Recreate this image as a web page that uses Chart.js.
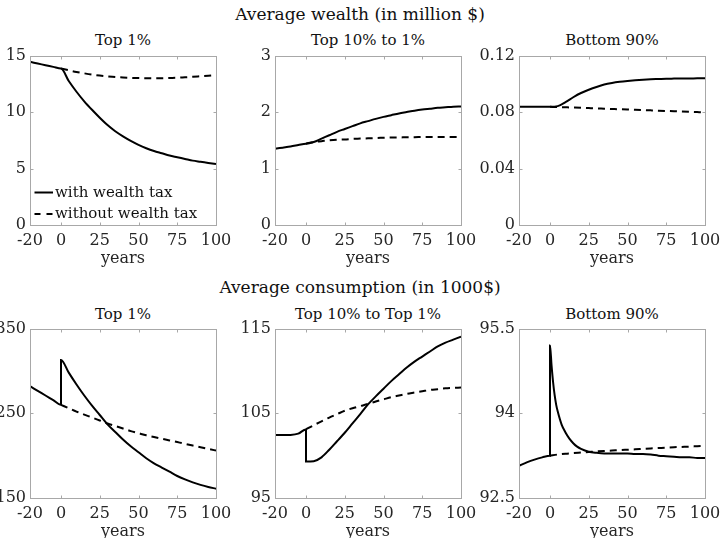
<!DOCTYPE html>
<html><head><meta charset="utf-8">
<script src="https://cdn.jsdelivr.net/npm/chart.js@4.4.1/dist/chart.umd.min.js"></script>
<style>
html,body{margin:0;padding:0;background:#fff;width:720px;height:538px;overflow:hidden;position:relative;font-family:"DejaVu Serif",serif;color:#000}
canvas{position:absolute}
.t{position:absolute;white-space:nowrap;text-align:center;line-height:1;color:#111}
.lg{position:absolute;white-space:nowrap;line-height:1;font-size:15px;color:#111}
</style></head><body>
<div class="t" style="left:0;width:720px;top:5.6px;font-size:17px">Average wealth (in million $)</div>
<div class="t" style="left:0;width:720px;top:278.6px;font-size:17px">Average consumption (in 1000$)</div>
<div class="t" style="left:30px;width:186px;top:33.3px;font-size:15px">Top 1%</div>
<div class="t" style="left:275px;width:186px;top:33.3px;font-size:15px">Top 10% to 1%</div>
<div class="t" style="left:519px;width:186px;top:33.3px;font-size:15px">Bottom 90%</div>
<div class="t" style="left:30px;width:186px;top:307.3px;font-size:15px">Top 1%</div>
<div class="t" style="left:275px;width:186px;top:307.3px;font-size:15px">Top 10% to Top 1%</div>
<div class="t" style="left:519px;width:186px;top:307.3px;font-size:15px">Bottom 90%</div>
<canvas id="c1" width="256" height="231" style="left:-18px;top:42px"></canvas>
<canvas id="c2" width="256" height="231" style="left:227px;top:42px"></canvas>
<canvas id="c3" width="256" height="231" style="left:471px;top:42px"></canvas>
<canvas id="c4" width="256" height="231" style="left:-18px;top:315px"></canvas>
<canvas id="c5" width="256" height="231" style="left:227px;top:315px"></canvas>
<canvas id="c6" width="256" height="231" style="left:471px;top:315px"></canvas>
<svg style="position:absolute;left:0;top:0" width="720" height="538">
<line x1="34.5" y1="192.5" x2="53" y2="192.5" stroke="#000" stroke-width="2"/>
<line x1="34.5" y1="214" x2="53" y2="214" stroke="#000" stroke-width="2" stroke-dasharray="6,6"/>
</svg>
<div class="lg" style="left:55px;top:184.5px">with wealth tax</div>
<div class="lg" style="left:55px;top:206px">without wealth tax</div>
<script>
// ---- axes ----
const xTicks = [-20, 0, 25, 50, 75, 100];
const yearsPre = [-20, -15, -10, -5, 0];
const yearsPost = [0, 5, 10, 15, 20, 25, 30, 35, 40, 45, 50, 55, 60, 65, 70, 75, 80, 85, 90, 95, 100];
const yearsPostFine = [0, 1, 2, 3, 4, 5, 7.5, 10, 12.5, 15, 17.5, 20, 25, 30, 35, 40, 45, 50, 55, 60, 65, 70, 75, 80, 85, 90, 95, 100];

// ---- Average wealth (million $) ----
const wealthTop1Ticks = [0, 5, 10, 15];
const wealthTop1Pre = [14.45, 14.3, 14.15, 14.0, 13.85];
const wealthTop1Tax = [13.85, 12.75, 11.8, 10.95, 10.2, 9.5, 8.85, 8.3, 7.85, 7.45, 7.1, 6.8, 6.55, 6.35, 6.15, 6.0, 5.85, 5.7, 5.6, 5.5, 5.4];
const wealthTop1NoTax = [13.85, 13.7, 13.55, 13.43, 13.32, 13.23, 13.16, 13.1, 13.06, 13.03, 13.01, 13.0, 13.0, 13.0, 13.02, 13.04, 13.08, 13.12, 13.17, 13.22, 13.28];

const wealthTop10Ticks = [0, 1, 2, 3];
const wealthTop10Pre = [1.35, 1.37, 1.39, 1.415, 1.44];
const wealthTop10Tax = [1.44, 1.47, 1.53, 1.59, 1.65, 1.70, 1.75, 1.80, 1.84, 1.88, 1.915, 1.945, 1.975, 2.0, 2.025, 2.045, 2.06, 2.075, 2.085, 2.095, 2.10];
const wealthTop10NoTax = [1.44, 1.47, 1.485, 1.50, 1.51, 1.515, 1.525, 1.53, 1.535, 1.54, 1.545, 1.55, 1.55, 1.555, 1.555, 1.56, 1.56, 1.56, 1.56, 1.56, 1.56];

const wealthBot90Ticks = [0, 0.04, 0.08, 0.12];
const wealthBot90Pre = [0.0837, 0.0837, 0.0837, 0.0837, 0.0837];
const wealthBot90Tax = [0.0837, 0.0842, 0.0870, 0.0905, 0.0935, 0.0958, 0.0978, 0.0995, 0.1006, 0.1014, 0.1020, 0.1025, 0.1029, 0.1032, 0.1034, 0.1036, 0.1037, 0.1038, 0.1038, 0.1039, 0.1039];
const wealthBot90NoTax = [0.0837, 0.0836, 0.0834, 0.0832, 0.0830, 0.0828, 0.0826, 0.0824, 0.0822, 0.0820, 0.0818, 0.0816, 0.0814, 0.0812, 0.0810, 0.0808, 0.0806, 0.0804, 0.0802, 0.0800, 0.0798];

// ---- Average consumption (1000$) ----
const consTop1Ticks = [150, 250, 350];
const consTop1Pre = [282, 276.5, 271, 265.5, 260];
const consTop1Tax = [313, 298, 284, 271, 259, 248, 237, 228, 219, 211, 204, 197, 191, 186, 181, 176, 172, 168.5, 165.5, 163, 161];
const consTop1NoTax = [260, 256, 252, 248.5, 245, 241.5, 238, 235, 232, 229, 226.5, 224, 222, 220, 218, 216, 214, 212, 210, 208, 206];

const consTop10Ticks = [95, 105, 115];
const consTop10Pre = [102.43, 102.43, 102.45, 102.6, 103.1];
const consTop10Tax = [99.3, 99.35, 99.8, 100.7, 101.7, 102.7, 103.8, 104.9, 106.05, 107.0, 107.9, 108.8, 109.6, 110.4, 111.1, 111.7, 112.3, 112.9, 113.35, 113.7, 114.05];
const consTop10NoTax = [103.1, 103.6, 104.05, 104.5, 104.9, 105.3, 105.6, 105.85, 106.1, 106.4, 106.65, 106.9, 107.1, 107.3, 107.45, 107.6, 107.75, 107.85, 107.95, 108.0, 108.05];

const consBot90Ticks = [92.5, 94, 95.5];
const consBot90Pre = [93.07, 93.13, 93.18, 93.22, 93.25];
const consBot90Tax = [95.2, 94.85, 94.55, 94.32, 94.15, 94.03, 93.8, 93.66, 93.55, 93.47, 93.41, 93.37, 93.32, 93.3, 93.29, 93.29, 93.29, 93.29, 93.28, 93.28, 93.27, 93.25, 93.24, 93.23, 93.22, 93.22, 93.21, 93.21];
const consBot90NoTax = [93.25, 93.27, 93.285, 93.295, 93.305, 93.315, 93.325, 93.333, 93.34, 93.348, 93.355, 93.362, 93.37, 93.378, 93.385, 93.392, 93.40, 93.405, 93.41, 93.418, 93.425];

Chart.defaults.font.family = '"DejaVu Serif", serif';
Chart.defaults.font.size = 16;
Chart.defaults.color = '#262626';

const pts = (xs, ys) => xs.map((x, i) => ({x: x, y: ys[i]}));

const boxPlugin = {
  id: 'matlabBox',
  afterDraw(chart) {
    const {ctx, chartArea: a, scales} = chart;
    ctx.save();
    ctx.strokeStyle = '#a8a8a8';
    ctx.lineWidth = 1;
    const L = Math.round(a.left) + 0.5, R = Math.round(a.right) + 0.5;
    const T = Math.round(a.top) + 0.5, B = Math.round(a.bottom) + 0.5;
    ctx.strokeRect(L, T, R - L, B - T);
    ctx.beginPath();
    scales.x.ticks.forEach(t => {
      const p = Math.round(scales.x.getPixelForValue(t.value)) + 0.5;
      ctx.moveTo(p, B); ctx.lineTo(p, B - 3);
      ctx.moveTo(p, T); ctx.lineTo(p, T + 3);
    });
    scales.y.ticks.forEach(t => {
      const p = Math.round(scales.y.getPixelForValue(t.value)) + 0.5;
      ctx.moveTo(L, p); ctx.lineTo(L + 3, p);
      ctx.moveTo(R, p); ctx.lineTo(R - 3, p);
    });
    ctx.stroke();
    ctx.restore();
  }
};

function makePanel(id, yTicks, preY, postX, taxY, noTaxY) {
  const solid = pts(yearsPre, preY).concat(pts(postX, taxY));
  const dashed = pts(yearsPost, noTaxY);
  new Chart(document.getElementById(id), {
    type: 'line',
    data: {datasets: [
      {data: solid, borderColor: '#000', borderWidth: 2, pointRadius: 0, fill: false, cubicInterpolationMode: 'monotone'},
      {data: dashed, borderColor: '#000', borderWidth: 2, borderDash: [7, 5], pointRadius: 0, fill: false, cubicInterpolationMode: 'monotone'}
    ]},
    options: {
      responsive: false, animation: false, devicePixelRatio: 1,
      layout: {padding: {top: 12, right: 22, left: 0, bottom: 0}},
      plugins: {legend: {display: false}, tooltip: {enabled: false}, title: {display: false}},
      scales: {
        x: {
          type: 'linear', min: -20, max: 100,
          afterBuildTicks: s => { s.ticks = xTicks.map(v => ({value: v})); },
          afterFit: s => { s.height = 48; },
          grid: {display: false, drawTicks: false}, border: {display: false},
          ticks: {padding: 6, maxRotation: 0, autoSkip: false, callback: v => String(v)},
          title: {display: true, text: 'years', padding: {top: 0, bottom: 5}}
        },
        y: {
          type: 'linear', min: yTicks[0], max: yTicks[yTicks.length - 1],
          afterBuildTicks: s => { s.ticks = yTicks.map(v => ({value: v})); },
          afterFit: s => { s.width = 48; },
          grid: {display: false, drawTicks: false}, border: {display: false},
          ticks: {padding: 4, autoSkip: false, callback: v => String(v)}
        }
      }
    },
    plugins: [boxPlugin]
  });
}

makePanel('c1', wealthTop1Ticks, wealthTop1Pre, yearsPost, wealthTop1Tax, wealthTop1NoTax);
makePanel('c2', wealthTop10Ticks, wealthTop10Pre, yearsPost, wealthTop10Tax, wealthTop10NoTax);
makePanel('c3', wealthBot90Ticks, wealthBot90Pre, yearsPost, wealthBot90Tax, wealthBot90NoTax);
makePanel('c4', consTop1Ticks, consTop1Pre, yearsPost, consTop1Tax, consTop1NoTax);
makePanel('c5', consTop10Ticks, consTop10Pre, yearsPost, consTop10Tax, consTop10NoTax);
makePanel('c6', consBot90Ticks, consBot90Pre, yearsPostFine, consBot90Tax, consBot90NoTax);
</script>
</body></html>
